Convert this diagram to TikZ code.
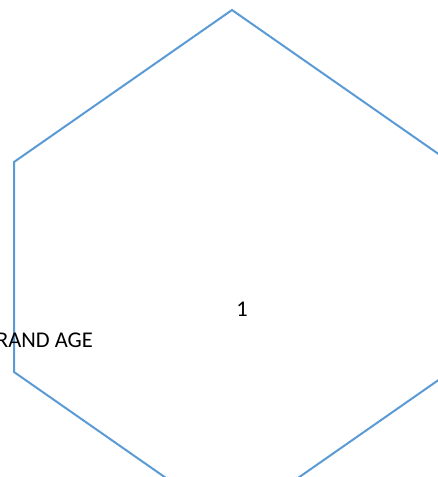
\documentclass[tikz,border=0pt]{standalone}
\usepackage{fontspec}
\setmainfont{Carlito}
\definecolor{hexblue}{RGB}{91,155,213}
\tikzset{
  hexline/.style={draw=hexblue, line width=2pt, line join=miter},
  lbl/.style={inner sep=0pt, font=\fontsize{22.5}{27}\selectfont, text=black}
}
\begin{document}
\begin{tikzpicture}[x=1pt,y=-1pt]
\useasboundingbox (0,0) rectangle (438,477);
\clip (0,0) rectangle (438,477);
\draw[hexline] (232,10) -- (450,162) -- (450,372) -- (232,524) -- (14,372) -- (14,162) -- cycle;
\node[lbl, anchor=base] (one) at (242,316) {1};
\node[lbl, anchor=base east] (grand) at (93,347) {RAND AGE};
\end{tikzpicture}
\end{document}
